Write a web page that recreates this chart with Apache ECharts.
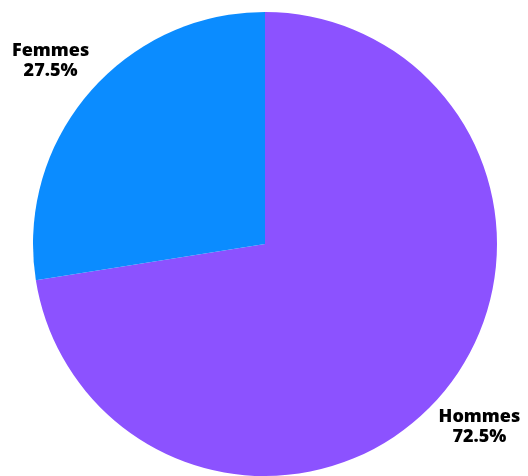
<!DOCTYPE html>
<html>
<head>
<meta charset="utf-8">
<script src="https://cdn.jsdelivr.net/npm/echarts@6/dist/echarts.min.js"></script>
<style>html,body{margin:0;padding:0;background:#fff;}#chart{width:528px;height:476px;}</style>
</head>
<body>
<div id="chart"></div>
<script>
const categories = ['Hommes', 'Femmes'];
const values = [72.5, 27.5];
const colors = ['#8c52ff', '#0b8cff'];

const chart = echarts.init(document.getElementById('chart'), null, {renderer: 'canvas'});
chart.setOption({
  animation: false,
  series: [{
    type: 'pie',
    center: [265, 244],
    radius: 232,
    startAngle: 90,
    clockwise: true,
    avoidLabelOverlap: false,
    itemStyle: { borderWidth: 0 },
    emphasis: { disabled: true },
    data: categories.map((c, i) => ({ name: c, value: values[i], itemStyle: { color: colors[i] } })),
    label: {
      show: true,
      position: 'outside',
      formatter: '{b}\n{c}%',
      fontFamily: 'Open Sans',
      fontWeight: 800,
      fontSize: 18,
      lineHeight: 20,
      color: '#000',
      distanceToLabelLine: 0
    },
    labelLine: { show: false, length: 50, length2: 0 },
    labelLayout: function () { return { align: 'center', verticalAlign: 'middle' }; }
  }]
});
</script>
</body>
</html>
